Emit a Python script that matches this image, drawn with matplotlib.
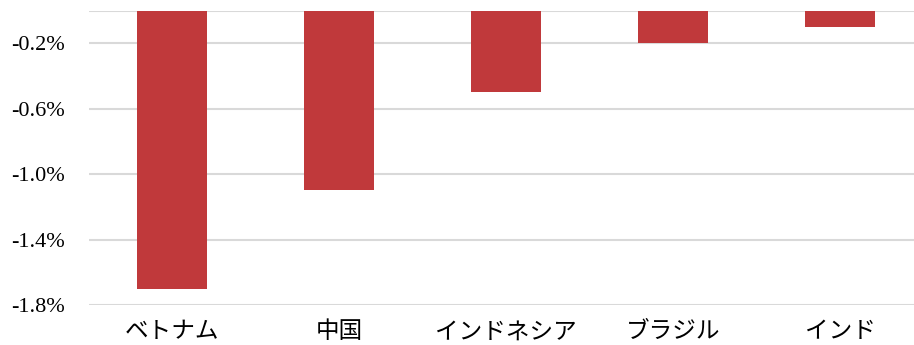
import matplotlib
matplotlib.use("Agg")
import numpy as np
from matplotlib import pyplot as plt
from matplotlib.ticker import FuncFormatter

countries = ["ベトナム", "中国", "インドネシア", "ブラジル", "インド"]
values = [-1.7, -1.1, -0.5, -0.2, -0.1]
yticks = [-1.8, -1.4, -1.0, -0.6, -0.2]

fig = plt.figure(figsize=(9.14, 3.45), dpi=100)
ax = fig.add_axes([88.5 / 914, 40 / 345, 835 / 914, 294.5 / 345])

x = np.arange(len(countries))
ax.bar(x, values, width=0.42, color="#c0393b", zorder=3)

ax.set_xlim(-0.5, len(countries) - 0.5)
ax.set_ylim(-1.8, 0)
ax.set_yticks(yticks)
ax.yaxis.set_major_formatter(FuncFormatter(lambda v, _: f"{v:.1f}%"))

# gridlines, including the 0 line at the top
for yv in yticks + [0]:
    ax.axhline(yv, color="#d9d9d9", lw=1.5, zorder=1)

for s in ax.spines.values():
    s.set_visible(False)

ax.tick_params(axis="both", length=0)
ax.tick_params(axis="y", pad=17)
ax.tick_params(axis="x", pad=11)
ax.set_xticks(x)
ax.set_xticklabels(countries, fontsize=17, family=["Noto Sans CJK JP", "DejaVu Sans"])
for lbl in ax.get_yticklabels():
    lbl.set_family("Liberation Serif")
    lbl.set_fontsize(16)

fig.savefig("out.png", dpi=100)
